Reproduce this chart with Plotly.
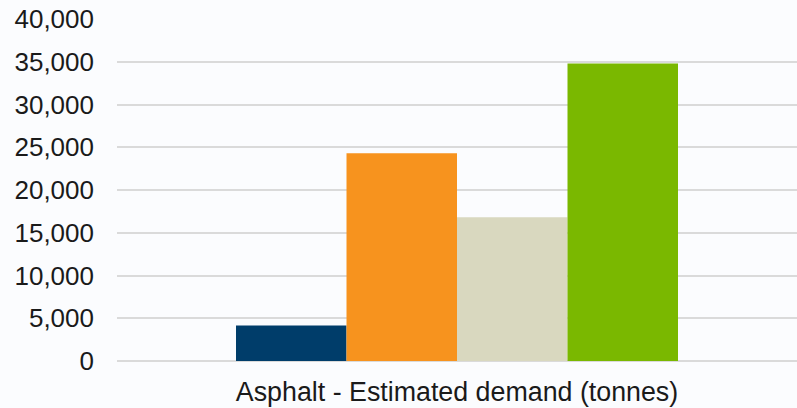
import plotly.graph_objects as go

categories = ["Asphalt - Estimated demand (tonnes)"]
series_names = ["Series 1", "Series 2", "Series 3", "Series 4"]
series_values = [[4150], [24300], [16800], [34800]]
series_colors = ["#003D6A", "#F7931E", "#D9D8BF", "#7AB800"]
y_ticks = [0, 5000, 10000, 15000, 20000, 25000, 30000, 35000, 40000]
y_tick_labels = ["0", "5,000", "10,000", "15,000", "20,000", "25,000", "30,000", "35,000", "40,000"]

fig = go.Figure()
for name, vals, col in zip(series_names, series_values, series_colors):
    fig.add_trace(go.Bar(x=categories, y=vals, name=name, marker=dict(color=col, line=dict(width=0))))

bg = "#FBFCFE"
fig.update_layout(
    width=797, height=408,
    margin=dict(l=117, r=0, t=19, b=47, pad=0),
    paper_bgcolor=bg, plot_bgcolor=bg,
    barmode="group", bargap=0.35, bargroupgap=0,
    showlegend=False,
    font=dict(family="Liberation Sans, Arial, sans-serif", size=26, color="#1A1A1A"),
    xaxis=dict(showgrid=False, showline=False, zeroline=False, ticks="",
               ticklabelstandoff=12, tickfont=dict(size=26.8)),
    yaxis=dict(range=[0, 40000], tickvals=y_ticks, ticktext=y_tick_labels,
               showgrid=True, gridcolor="#DADADA", gridwidth=1.5,
               zeroline=True, zerolinecolor="#DADADA", zerolinewidth=1.5,
               showline=False, ticks="", ticklabelstandoff=22),
)
fig.write_html("out.html", config={"displayModeBar": False},
               post_script="document.body.style.margin='0';document.body.style.overflow='hidden';document.body.style.background='" + bg + "';")
